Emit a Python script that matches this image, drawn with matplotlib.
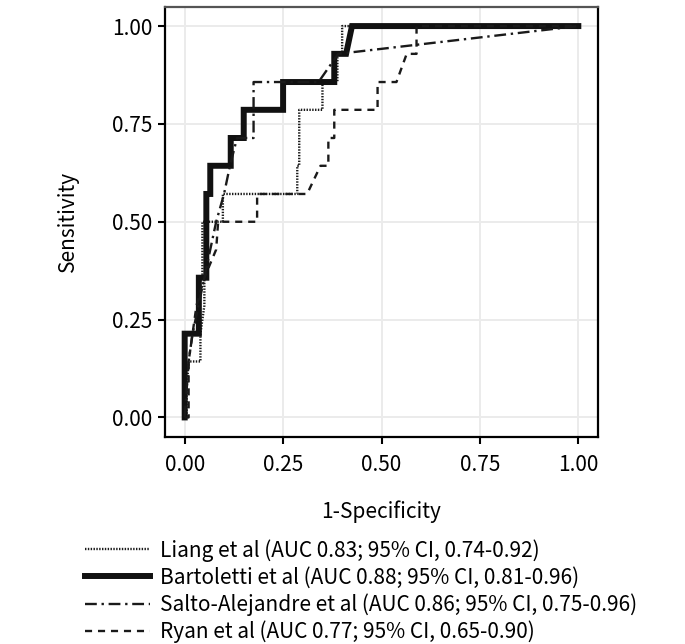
import matplotlib
matplotlib.use('Agg')
import matplotlib.pyplot as plt

plt.rcParams['font.family'] = ['Noto Sans CJK JP', 'DejaVu Sans']

# ROC curves (fpr = 1-specificity, tpr = sensitivity)
liang_fpr = [0, 0.005, 0.005, 0.01, 0.04, 0.04, 0.05, 0.05, 0.045, 0.045, 0.097, 0.097,
             0.286, 0.286, 0.291, 0.291, 0.35, 0.35, 0.388, 0.388, 0.40, 0.40, 1.0]
liang_tpr = [0, 0, 0.071, 0.143, 0.143, 0.214, 0.286, 0.357, 0.357, 0.5, 0.5, 0.571,
             0.571, 0.643, 0.643, 0.786, 0.786, 0.857, 0.857, 0.929, 0.929, 1.0, 1.0]

bart_fpr = [0, 0, 0.036, 0.036, 0.055, 0.055, 0.065, 0.065, 0.117, 0.117, 0.15, 0.15,
            0.25, 0.25, 0.38, 0.38, 0.41, 0.425, 1.0]
bart_tpr = [0, 0.214, 0.214, 0.357, 0.357, 0.571, 0.571, 0.643, 0.643, 0.714, 0.714, 0.786,
            0.786, 0.857, 0.857, 0.929, 0.929, 1.0, 1.0]

salto_fpr = [0, 0.005, 0.01, 0.02, 0.035, 0.05, 0.065, 0.08, 0.10, 0.115, 0.133, 0.156,
             0.175, 0.175, 0.34, 0.39, 1.0]
salto_tpr = [0, 0.071, 0.143, 0.214, 0.286, 0.357, 0.429, 0.5, 0.571, 0.643, 0.714, 0.714,
             0.714, 0.857, 0.857, 0.929, 1.0]

ryan_fpr = [0, 0.01, 0.01, 0.03, 0.05, 0.08, 0.085, 0.184, 0.184, 0.311, 0.345, 0.365,
            0.365, 0.38, 0.38, 0.49, 0.49, 0.538, 0.564, 0.589, 0.589, 1.0]
ryan_tpr = [0, 0, 0.143, 0.286, 0.357, 0.429, 0.5, 0.5, 0.571, 0.571, 0.643, 0.643,
            0.714, 0.714, 0.786, 0.786, 0.857, 0.857, 0.929, 0.929, 1.0, 1.0]

labels = ['Liang et al (AUC 0.83; 95% CI, 0.74-0.92)',
          'Bartoletti et al (AUC 0.88; 95% CI, 0.81-0.96)',
          'Salto-Alejandre et al (AUC 0.86; 95% CI, 0.75-0.96)',
          'Ryan et al (AUC 0.77; 95% CI, 0.65-0.90)']
ticks = [0, 0.25, 0.5, 0.75, 1.0]
tick_labels = ['0.00', '0.25', '0.50', '0.75', '1.00']

fig = plt.figure(figsize=(6.85, 6.44), dpi=100)
ax = fig.add_axes([165 / 685, 1 - 437 / 644, 433 / 685, 430.5 / 644])

l1, = ax.plot(liang_fpr, liang_tpr, color='#1a1a1a', lw=1.7, ls=(0, (0.6, 0.6)))
l2, = ax.plot(bart_fpr, bart_tpr, color='#111111', lw=4.3, solid_joinstyle='miter')
l3, = ax.plot(salto_fpr, salto_tpr, color='#1a1a1a', lw=1.7, ls=(0, (5, 2, 1, 2)))
l4, = ax.plot(ryan_fpr, ryan_tpr, color='#1a1a1a', lw=1.7, ls=(0, (3, 2.5)))

ax.set_xlim(-0.05, 1.05)
ax.set_ylim(-0.05, 1.05)
ax.set_xticks(ticks)
ax.set_xticklabels(tick_labels)
ax.set_yticks(ticks)
ax.set_yticklabels(tick_labels)
ax.grid(True, color='#ebebeb', lw=1.4)
ax.set_axisbelow(True)
ax.tick_params(direction='out', length=5, width=1.5, color='black', labelsize=15)
ax.tick_params(axis='x', pad=7)
ax.tick_params(axis='y', pad=4)
for side in ['left', 'bottom', 'right']:
    ax.spines[side].set_color('black')
    ax.spines[side].set_linewidth(1.6)
ax.spines['top'].set_color('#555555')
ax.spines['top'].set_linewidth(1.6)

ax.set_xlabel('1-Specificity', fontsize=15, labelpad=18)
ax.set_ylabel('Sensitivity', fontsize=15, labelpad=24)

fig.legend([l1, l2, l3, l4], labels, loc='upper left',
           bbox_to_anchor=(85 / 685, 1 - 539 / 644), frameon=False,
           fontsize=15, handlelength=3.1, handletextpad=0.5,
           labelspacing=0.23, borderpad=0, borderaxespad=0)

fig.savefig('out.png', dpi=100)
